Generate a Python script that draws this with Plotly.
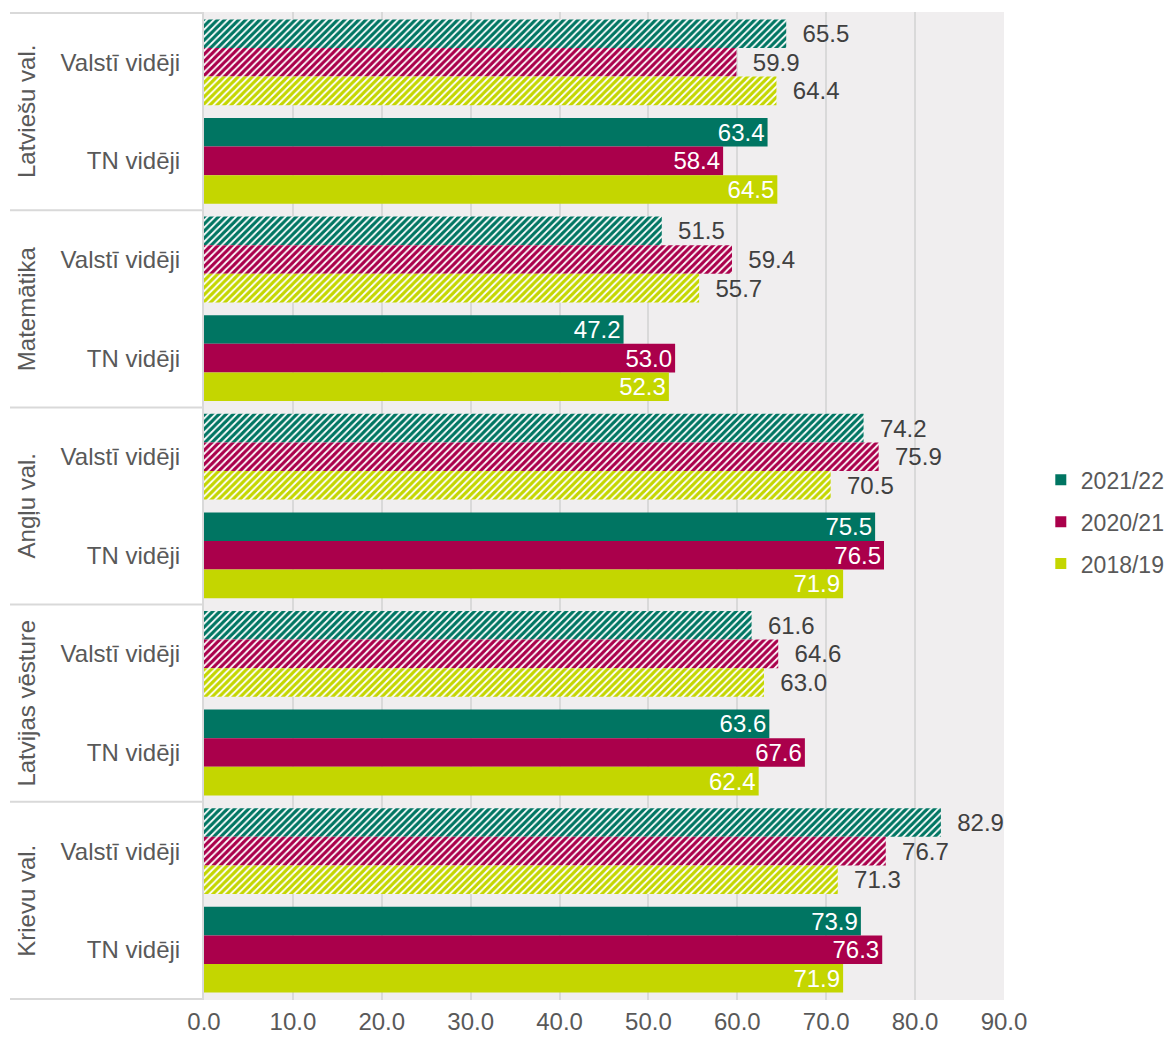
import plotly.graph_objects as go

subjects = ["Latviešu val.", "Matemātika", "Angļu val.", "Latvijas vēsture", "Krievu val."]
subgroups = ["Valstī vidēji", "TN vidēji"]
years = ["2021/22", "2020/21", "2018/19"]
colors = ["#007562", "#AA004B", "#C4D600"]

# values per year, order: subject x (Valstī, TN)
vals_2021 = [65.5, 63.4, 51.5, 47.2, 74.2, 75.5, 61.6, 63.6, 82.9, 73.9]
vals_2020 = [59.9, 58.4, 59.4, 53.0, 75.9, 76.5, 64.6, 67.6, 76.7, 76.3]
vals_2018 = [64.4, 64.5, 55.7, 52.3, 70.5, 71.9, 63.0, 62.4, 71.3, 71.9]
values = [vals_2021, vals_2020, vals_2018]

keys = [f"{s}|{g}" for s in subjects for g in subgroups]
labels = [g for s in subjects for g in subgroups]
is_avg = [g == "Valstī vidēji" for s in subjects for g in subgroups]

FS = 24
GREY = "#595959"

fig = go.Figure()
for year, col, v in zip(years, colors, values):
    fig.add_trace(go.Bar(
        y=keys, x=v, name=year, orientation="h", showlegend=False,
        marker=dict(
            color=col, line=dict(width=0),
            pattern=dict(shape=["/" if a else "" for a in is_avg],
                         fgcolor=col, bgcolor="white", fillmode="replace",
                         size=5, solidity=0.65),
        ),
        texttemplate=["\u00a0\u00a0%{x:.1f}" if a else "%{x:.1f}" for a in is_avg],
        textposition=["outside" if a else "inside" for a in is_avg],
        insidetextanchor="end",
        textfont=dict(size=FS, color=["#404040" if a else "white" for a in is_avg]),
        constraintext="none", cliponaxis=False,
    ))

# legend entries with solid squares
for year, col in zip(years, colors):
    fig.add_trace(go.Scatter(x=[None], y=[None], mode="markers", name=year,
                             legendgroup=year,
                             marker=dict(symbol="square", size=11, color=col)))

shapes = []
for i in range(len(subjects) + 1):
    yb = 2 * i - 0.5
    shapes.append(dict(type="line", xref="paper", yref="y", x0=-0.2425, x1=0,
                       y0=yb, y1=yb, line=dict(color="#D9D9D9", width=2)))

annotations = []
for i, s in enumerate(subjects):
    annotations.append(dict(text=s, xref="paper", yref="y", x=-0.222, y=2 * i + 0.5,
                            xanchor="center", yanchor="middle",
                            textangle=-90, showarrow=False,
                            font=dict(size=FS, color=GREY)))

# page body has an 8px margin, so the figure is shrunk by that amount
fig.update_layout(
    width=1166, height=1033,
    margin=dict(l=196, r=170, t=4, b=41, autoexpand=False),
    paper_bgcolor="white", plot_bgcolor="#F0EEEF",
    font=dict(family="Liberation Sans, Arial, sans-serif", size=FS, color=GREY),
    barmode="group", bargap=0.13, bargroupgap=0,
    legend=dict(x=1.046, y=0.484, yanchor="middle", xanchor="left",
                font=dict(size=23, color=GREY), tracegroupgap=9,
                itemwidth=30, bgcolor="rgba(0,0,0,0)"),
    shapes=shapes, annotations=annotations,
    xaxis=dict(range=[0, 90], dtick=10, tickformat=".1f", showgrid=True,
               gridcolor="#D9D9D9", gridwidth=2, zeroline=False,
               tickfont=dict(size=FS, color=GREY), ticks="", ticklabelstandoff=5),
    yaxis=dict(type="category", categoryorder="array", categoryarray=keys,
               autorange="reversed", tickvals=keys, ticktext=labels,
               showline=True, linecolor="#D9D9D9", linewidth=2,
               tickfont=dict(size=FS, color=GREY), ticks="",
               ticklabelstandoff=17, showgrid=False),
)

fig.write_html("out.html")
